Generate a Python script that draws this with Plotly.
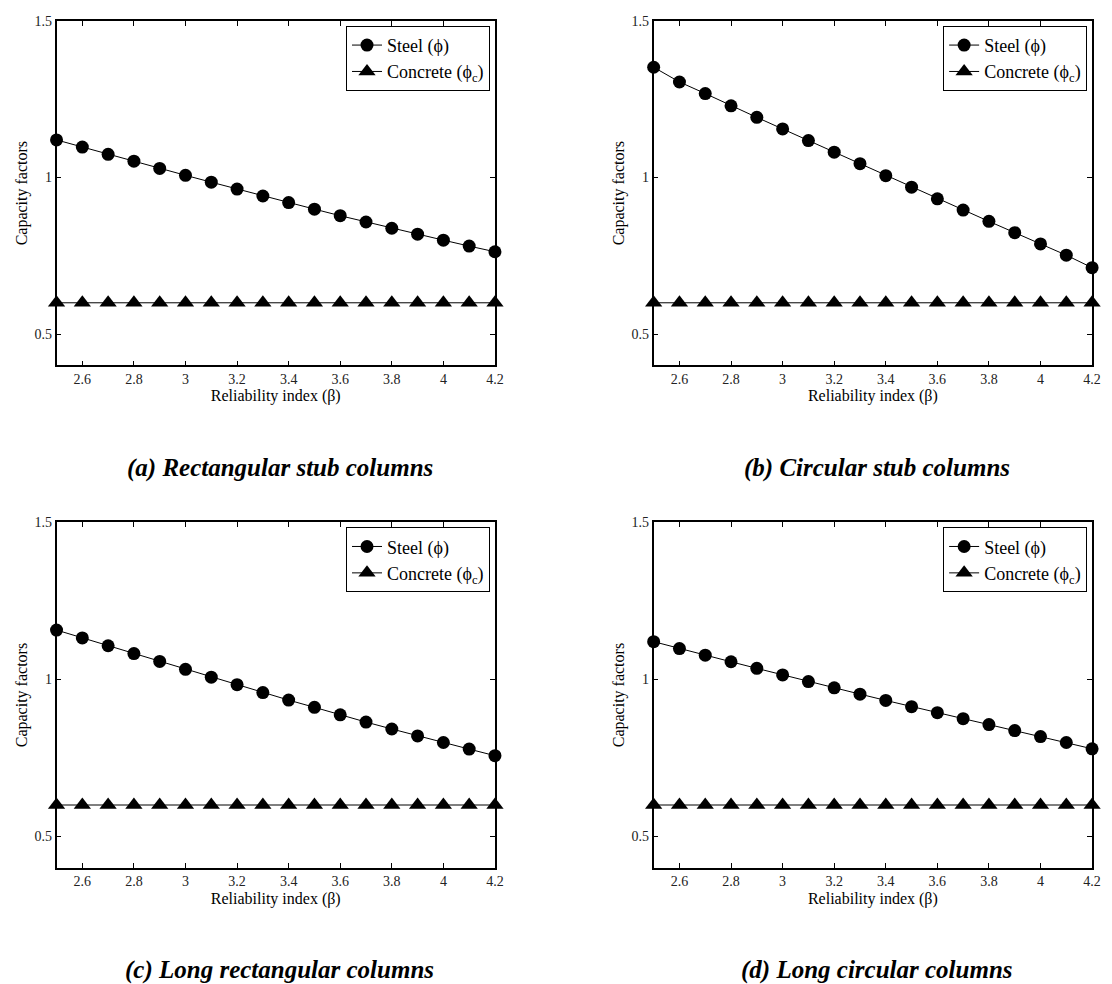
import plotly.graph_objects as go

beta = [2.5, 2.6, 2.7, 2.8, 2.9, 3.0, 3.1, 3.2, 3.3, 3.4, 3.5, 3.6, 3.7, 3.8, 3.9, 4.0, 4.1, 4.2]

steel_a = [1.120, 1.097, 1.074, 1.052, 1.029, 1.007, 0.985, 0.963, 0.941, 0.920,
           0.899, 0.878, 0.858, 0.838, 0.819, 0.800, 0.781, 0.763]
steel_b = [1.352, 1.305, 1.268, 1.229, 1.192, 1.155, 1.118, 1.081, 1.044, 1.006,
           0.969, 0.932, 0.896, 0.860, 0.824, 0.788, 0.752, 0.712]
steel_c = [1.157, 1.132, 1.107, 1.082, 1.057, 1.032, 1.007, 0.983, 0.958, 0.934,
           0.911, 0.887, 0.864, 0.842, 0.820, 0.799, 0.778, 0.757]
steel_d = [1.120, 1.098, 1.077, 1.056, 1.035, 1.014, 0.993, 0.973, 0.953, 0.933,
           0.913, 0.894, 0.875, 0.856, 0.837, 0.818, 0.799, 0.779]
concrete = [0.6] * 18

captions = ["(a) Rectangular stub columns", "(b) Circular stub columns",
            "(c) Long rectangular columns", "(d) Long circular columns"]
steel_sets = [steel_a, steel_b, steel_c, steel_d]

x_ticks = [2.6, 2.8, 3.0, 3.2, 3.4, 3.6, 3.8, 4.0, 4.2]
x_tick_text = ["2.6", "2.8", "3", "3.2", "3.4", "3.6", "3.8", "4", "4.2"]
y_ticks = [0.5, 1.0, 1.5]
y_tick_text = ["0.5", "1", "1.5"]

W, H = 1112, 984
FONT = "Liberation Serif"

# pixel boxes of panels: (left, right, top, bottom)
boxes = [(57, 499, 14, 361), (659, 1101, 14, 361),
         (57, 499, 519, 867), (659, 1101, 519, 867)]

fig = go.Figure()
layout = dict(
    width=W, height=H, margin=dict(l=0, r=0, t=0, b=0),
    paper_bgcolor="white", plot_bgcolor="white",
    font=dict(family=FONT, color="black", size=14),
    showlegend=True,
)
annotations = []

for i, (steel, cap, box) in enumerate(zip(steel_sets, captions, boxes)):
    n = "" if i == 0 else str(i + 1)
    xa, ya = "x" + n, "y" + n
    lg = "legend" + n
    l, r, t, b = box
    fig.add_trace(go.Scatter(
        x=beta, y=steel, xaxis=xa, yaxis=ya, mode="lines+markers",
        name="Steel (ϕ)", legend=lg, cliponaxis=False,
        line=dict(color="black", width=1),
        marker=dict(symbol="circle", size=13, color="black")))
    fig.add_trace(go.Scatter(
        x=beta, y=concrete, xaxis=xa, yaxis=ya, mode="lines+markers",
        name="Concrete (ϕ<sub>c</sub>)", legend=lg, cliponaxis=False,
        line=dict(color="black", width=1),
        marker=dict(symbol="triangle-up", size=15, color="black")))
    axcommon = dict(showline=True, linecolor="black", linewidth=1.5, mirror="ticks",
                    ticks="inside", ticklen=5, tickwidth=1, tickcolor="black",
                    showgrid=False, zeroline=False,
                    tickfont=dict(family=FONT, size=14, color="#222"))
    layout["xaxis" + n] = dict(
        axcommon, domain=[l / W, r / W], range=[2.5, 4.2], anchor=ya,
        tickvals=x_ticks, ticktext=x_tick_text,
        title=dict(text="Reliability index (β)", font=dict(family=FONT, size=16),
                   standoff=4))
    layout["yaxis" + n] = dict(
        axcommon, domain=[1 - b / H, 1 - t / H], range=[0.4, 1.5], anchor=xa,
        tickvals=y_ticks, ticktext=y_tick_text,
        title=dict(text="Capacity factors", font=dict(family=FONT, size=16),
                   standoff=3))
    layout[lg] = dict(
        x=(r - 5) / W, y=1 - (t + 5) / H, xanchor="right", yanchor="top",
        bgcolor="white", bordercolor="black", borderwidth=1,
        font=dict(family=FONT, size=18, color="black"),
        tracegroupgap=0, itemwidth=30)
    annotations.append(dict(
        text="<b><i>" + cap + "</i></b>", x=((l + r) / 2 + 4) / W, y=1 - (b + 103) / H,
        xref="paper", yref="paper", xanchor="center", yanchor="middle",
        showarrow=False, font=dict(family=FONT, size=25, color="black")))

layout["annotations"] = annotations
fig.update_layout(**layout)
fig.write_html("out.html")
